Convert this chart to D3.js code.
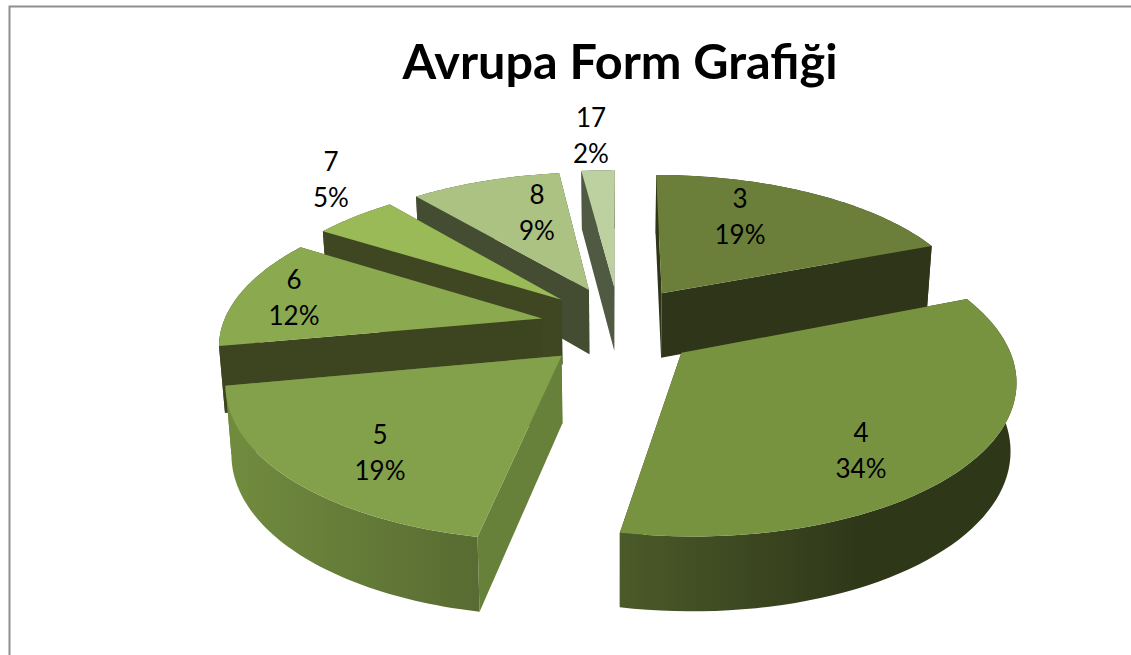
<!DOCTYPE html>
<html><head><meta charset="utf-8">
<script src="https://cdn.jsdelivr.net/npm/d3@7"></script>
<style>html,body{margin:0;padding:0;background:#fff;overflow:hidden}svg{display:block}</style>
</head><body><svg id="c" width="1131" height="655"></svg>
<script>
// data
const chartTitle = "Avrupa Form Grafiği";
const categories = ["3","4","5","6","7","8","17"];
const shares = [19,34,19,12,5,9,2];
// colours per slice
const topColors = ["#6b7f3a","#78933f" ,"#83a04b","#8ba94f","#9aba58","#abc282","#bcd0a0"];
const wallColors = ["#2e3518","#2e3518","#67803a","#3d4520","#3e4722","#444c32","#505a42"];
const outerFrom = ["#2e3518","#4b5a29","#708a3e","#3d4520","#3e4722","#444c32","#505a42"];
const outerTo = ["#2e3518","#2f3719","#586b32","#3d4520","#3e4722","#444c32","#505a42"];
// layout
const W=1131,H=655;
const view={cx:619,cy:326,A:320,B:146,k:0.155,ex:0.246,ey:0.28,depth:66,kd:0.1,baseScale:0.985};
const labelPos={"3":[740,217],"4":[861,451],"5":[380,453],"6":[294,298],"7":[331,180],"8":[537,213],"17":[591,136]};
const drawOrder=["17","8","7","6","5","3","4"];

const svg=d3.select("#c");
const defs=svg.append("defs");
svg.append("rect").attr("x",9.5).attr("y",6.5).attr("width",W+20).attr("height",H+20)
  .attr("fill","#fff").attr("stroke","#8e8e8e").attr("stroke-width",2);

const arcs=d3.pie().sort(null).value(d=>d)(shares);
const line=d3.line();

function proj(X,Y,z){
  const w=1-view.k*Y, sc=z?view.baseScale:1;
  return [view.cx+sc*view.A*X/w, view.cy+view.B*Y/w + (z? view.depth/(1-view.kd*Y):0)];
}
function slice(i){
  const a=arcs[i], mid=(a.startAngle+a.endAngle)/2;
  const tx=view.ex*Math.sin(mid), ty=-view.ey*Math.cos(mid);
  const at=(ang,r,z)=>proj(tx+r*Math.sin(ang),ty-r*Math.cos(ang),z);
  const angs=d3.range(0,61).map(t=>a.startAngle+(a.endAngle-a.startAngle)*t/60);
  return {a,at,angs};
}
const idx=categories.map((c,i)=>i);
idx.forEach(i=>{
  const g=defs.append("linearGradient").attr("id","o"+i).attr("gradientUnits","userSpaceOnUse");
  const s=slice(i), p0=s.at(s.a.startAngle,1,false), p1=s.at(s.a.endAngle,1,false);
  if(categories[i]==="4"){ g.attr("x1",622).attr("x2",860); }
  else if(categories[i]==="5"){ g.attr("x1",240).attr("x2",480); }
  else { g.attr("x1",Math.min(p0[0],p1[0])).attr("x2",Math.max(p0[0],p1[0])); }
  g.attr("y1",0).attr("y2",0);
  g.append("stop").attr("offset",0).attr("stop-color",outerFrom[i]);
  g.append("stop").attr("offset",1).attr("stop-color",outerTo[i]);
});

drawOrder.map(c=>categories.indexOf(c)).forEach(i=>{
  const s=slice(i), g=svg.append("g").attr("class","slice").datum(shares[i]);
  const tipT=s.at(0,0,false), tipB=s.at(0,0,true);
  const wall=(ang)=>line([tipT,s.at(ang,1,false),s.at(ang,1,true),tipB])+"Z";
  g.append("path").attr("d",wall(s.a.endAngle)).attr("fill",wallColors[i]);
  g.append("path").attr("d",wall(s.a.startAngle)).attr("fill",wallColors[i]);
  const topArc=s.angs.map(t=>s.at(t,1,false));
  const botArc=s.angs.map(t=>s.at(t,1,true)).reverse();
  g.append("path").attr("d",line(topArc.concat(botArc))+"Z").attr("fill","url(#o"+i+")");
  g.append("path").attr("d",line([tipT].concat(topArc))+"Z").attr("fill",topColors[i]);
});

svg.append("text").attr("x",620).attr("y",79).attr("text-anchor","middle")
  .attr("font-family","Lato, 'Open Sans', sans-serif").attr("font-weight",700).attr("font-size",48.6)
  .attr("fill","#000").text(chartTitle);

categories.forEach((c,i)=>{
  const [x,y]=labelPos[c];
  const t=svg.append("text").attr("text-anchor","middle").attr("font-family","Lato, 'Open Sans', sans-serif")
    .attr("font-size",26).attr("fill","#000");
  t.append("tspan").attr("x",x).attr("y",y-9).text(c);
  t.append("tspan").attr("x",x).attr("y",y+27).text(shares[i]+"%");
});
</script></body></html>
